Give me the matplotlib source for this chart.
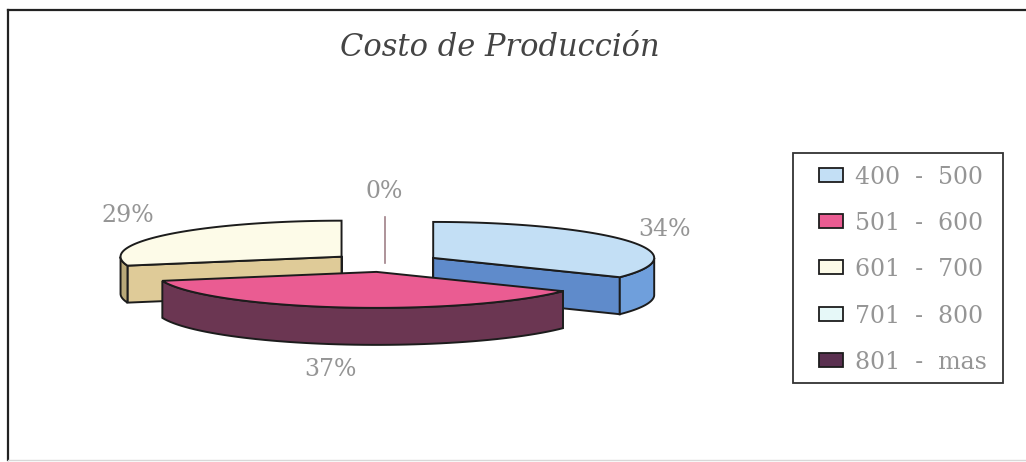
import numpy as np
import matplotlib
matplotlib.use('Agg')
import matplotlib.pyplot as plt
from matplotlib.patches import Polygon, Rectangle

# chart data
title = 'Costo de Producción'
categories = ['400 - 500', '501 - 600', '601 - 700', '701 - 800', '801 - mas']
values = [34, 37, 29, 0, 0]
top_colors = ['#c3dff5', '#ea5c92', '#fdfbe8', '#e6f8f8', '#5a3050']
front_colors = ['#5f8bcb', '#6b3652', '#dfcb98', '#e6f8f8', '#5a3050']
arc_colors = ['#6f9fdc', '#6b3652', '#b8a878', '#e6f8f8', '#5a3050']
label_pos = {0: (664, 229), 1: (330, 370), 2: (128, 216), 3: (384, 192)}

# pie geometry in pixels
cx0, cy0 = 385, 262.5
rx, ry = 221, 36
depth = 37
explode_x, explode_y = 55, 9.5
edge = '#1c1c1c'
text_color = '#959595'


def point(cx, cy, ang):
    return cx + rx * np.sin(ang), cy - ry * np.cos(ang)


def draw_slice(ax, start, end, top_c, front_c, arc_c):
    mid = (start + end) / 2
    cx = cx0 + explode_x * np.sin(mid)
    cy = cy0 - explode_y * np.cos(mid)
    if end - start < 1e-6:
        ax.plot([cx, cx], [cy - ry, cy + 10], color='#a08088', lw=1.2, zorder=2)
        return
    z = 3 + cy / 1000
    # flat sides of the wedge, only the ones turned to the viewer
    for ang in (start, end):
        facing = (ang > np.pi / 2 and ang < np.pi and ang == end) or (ang > np.pi and ang == start)
        if facing:
            x, y = point(cx, cy, ang)
            ax.add_patch(Polygon([(cx, cy), (x, y), (x, y + depth), (cx, cy + depth)],
                                 fc=front_c, ec=edge, lw=1.4, zorder=z))
    # outer rim, front half of the ellipse
    a0, a1 = max(start, np.pi / 2), min(end, 3 * np.pi / 2)
    if a1 > a0:
        t = np.linspace(a0, a1, 60)
        xs, ys = point(cx, cy, t)
        rim = list(zip(xs, ys)) + list(zip(xs[::-1], ys[::-1] + depth))
        ax.add_patch(Polygon(rim, fc=arc_c, ec=edge, lw=1.4, zorder=z))
    # top face
    t = np.linspace(start, end, 80)
    xs, ys = point(cx, cy, t)
    ax.add_patch(Polygon([(cx, cy)] + list(zip(xs, ys)), fc=top_c, ec=edge, lw=1.4, zorder=z))
    if start < 1e-6 or end > 2 * np.pi - 1e-6:
        ax.plot([cx, cx], [cy, cy + depth], color=edge, lw=1.4, zorder=z)


fig = plt.figure(figsize=(10.26, 4.62), dpi=100)
ax = fig.add_axes([0, 0, 1, 1])
ax.set_xlim(0, 1026)
ax.set_ylim(462, 0)
ax.axis('off')

# scanned frame: strong top and left, the bottom has nearly faded, no right side
ax.plot([8, 1026], [10, 10], color='#222222', lw=1.6)
ax.plot([8, 8], [10, 460], color='#222222', lw=1.6)
ax.plot([8, 1026], [460, 460], color='#d8d8d8', lw=1.0)

angles = np.cumsum([0] + values) / sum(values) * 2 * np.pi
for i in range(4):
    draw_slice(ax, angles[i], angles[i + 1], top_colors[i], front_colors[i], arc_colors[i])

for i, (x, y) in label_pos.items():
    ax.text(x, y, '%d%%' % values[i], ha='center', va='center', fontsize=17,
            family='DejaVu Serif', color=text_color)

ax.text(500, 47, title, ha='center', va='center', fontsize=22, family='DejaVu Serif',
        style='italic', color='#444444')

# legend box, spaced by hand because the swatches sit far from the frame
ax.add_patch(Rectangle((793, 153), 210, 230, fc='white', ec='#333333', lw=1.3, zorder=5))
for i, cat in enumerate(categories):
    y = 175 + 46.2 * i
    ax.add_patch(Rectangle((819, y - 7), 24, 14, fc=top_colors[i], ec=edge, lw=1.3, zorder=6))
    ax.text(855, y, cat.replace(' - ', '  -  '), ha='left', va='center_baseline', fontsize=17,
            family='DejaVu Serif', color=text_color, zorder=6)

fig.savefig('out.png', dpi=100)
